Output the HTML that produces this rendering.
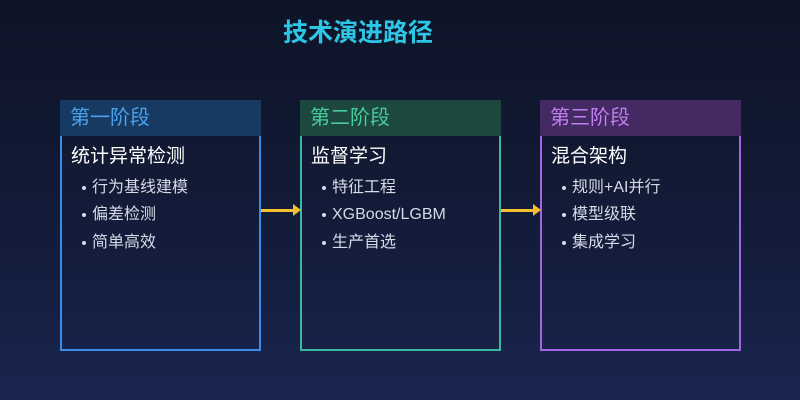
<!DOCTYPE html>
<html><head><meta charset="utf-8"><style>
body{margin:0;width:800px;height:400px;overflow:hidden;background:linear-gradient(180deg,#0e1427 0%,#131c3a 60%,#1a2650 100%);font-family:"Liberation Sans","Noto Sans CJK SC",sans-serif;position:relative}
.t{position:absolute;left:0;width:716px;top:13px;text-align:center;color:#2ec6e6;font-size:25px;font-weight:bold}
.b{position:absolute;top:100px;width:197px;height:249px;border:2px solid;border-top:none}
.h{position:absolute;left:-2px;top:0;width:201px;height:36px;font-size:20px;line-height:36px;text-indent:10px}
.s{position:absolute;left:9px;top:44px;color:#fff;font-size:19px;line-height:26px}
.l{position:absolute;left:22px;color:#d6dae6;font-size:16px;line-height:20px}
.l:before{content:"";position:absolute;left:-2px;top:8px;width:4px;height:4px;border-radius:50%;background:#d6dae6}
.l span{margin-left:8px}
.a{position:absolute;top:209px;height:3px;background:#f5c030;width:33px}
.a:after{content:"";position:absolute;right:-7px;top:-5px;border-left:8px solid #f5c030;border-top:6px solid transparent;border-bottom:6px solid transparent}
</style></head><body>
<div class="t">技术演进路径</div>
<div class="b" style="left:60px;border-color:#3a8cea"><div class="h" style="background:#173a62;color:#4aa2ee">第一阶段</div><div class="s">统计异常检测</div>
<div class="l" style="top:78px"><span>行为基线建模</span></div><div class="l" style="top:105px"><span>偏差检测</span></div><div class="l" style="top:133px"><span>简单高效</span></div></div>
<div class="b" style="left:300px;border-color:#3cb8a0"><div class="h" style="background:#1d4840;color:#48cc9c">第二阶段</div><div class="s">监督学习</div>
<div class="l" style="top:78px"><span>特征工程</span></div><div class="l" style="top:105px"><span>XGBoost/LGBM</span></div><div class="l" style="top:133px"><span>生产首选</span></div></div>
<div class="b" style="left:540px;border-color:#a464e4"><div class="h" style="background:#432a62;color:#c27ef0">第三阶段</div><div class="s">混合架构</div>
<div class="l" style="top:78px"><span>规则+AI并行</span></div><div class="l" style="top:105px"><span>模型级联</span></div><div class="l" style="top:133px"><span>集成学习</span></div></div>
<div class="a" style="left:261px"></div>
<div class="a" style="left:501px"></div>
</body></html>
